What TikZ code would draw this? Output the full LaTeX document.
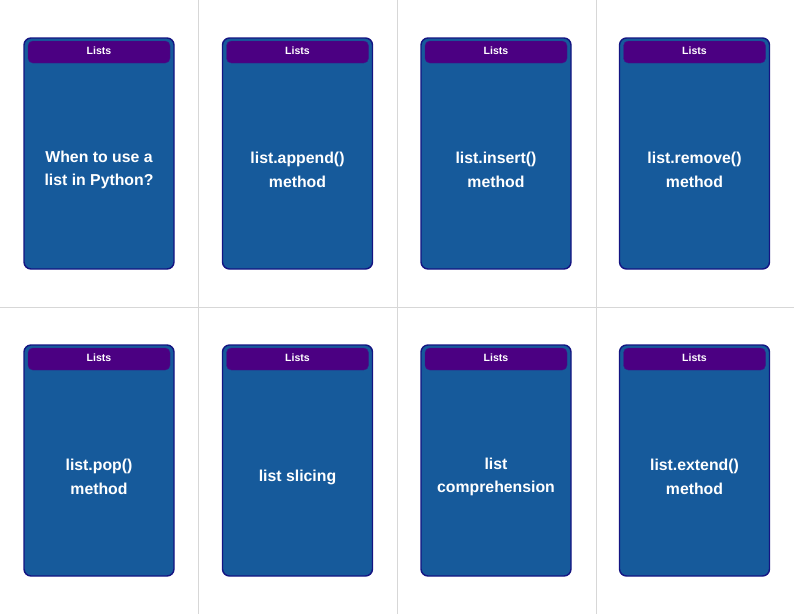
\documentclass[tikz,border=0pt]{standalone}
\usepackage{fontspec}
\setmainfont{Liberation Sans}
\usetikzlibrary{positioning,calc}
\definecolor{cardblue}{RGB}{22,90,155}
\definecolor{cardedge}{RGB}{20,20,130}
\definecolor{headpurple}{RGB}{75,0,130}
\definecolor{gridgray}{RGB}{215,215,215}
\tikzset{
  card/.style={draw=cardedge, line width=1.2pt, fill=cardblue, rounded corners=6pt},
  cardhead/.style={fill=headpurple, draw=headpurple!70!cardblue, rounded corners=4pt},
  headtext/.style={text=white, font=\bfseries\fontsize{9}{10}\selectfont},
  bodytext/.style={text=white, align=center, font=\bfseries\fontsize{13.5}{20}\selectfont}
}
\begin{document}
\begin{tikzpicture}[x=0.03cm, y=-0.03cm]
    \useasboundingbox (0,0) rectangle (794,614);
    % cutting grid
    \draw[gridgray] (198.5,0) -- (198.5,614);
    \draw[gridgray] (397,0) -- (397,614);
    \draw[gridgray] (596,0) -- (596,614);
    \draw[gridgray] (0,307) -- (794,307);
    % cards
    \foreach \col/\row/\txt [count=\i] in {
        0/0/{When to use a\\list in Python?},
        1/0/{list.append()\\method},
        2/0/{list.insert()\\method},
        3/0/{list.remove()\\method},
        0/1/{list.pop()\\method},
        1/1/{list slicing},
        2/1/{list\\comprehension},
        3/1/{list.extend()\\method}}
    {
      \coordinate (origin\i) at ({\col*198.5},{\row*307});
      \draw[card] ($(origin\i)+(24,38)$) rectangle ($(origin\i)+(174,269)$);
      \draw[cardhead] ($(origin\i)+(28,41)$) rectangle ($(origin\i)+(170,63)$);
      \node[headtext] (head\i) at ($(origin\i)+(99,51)$) {Lists};
      \node[bodytext] (body\i) at ($(origin\i)+(99,170)$) {\txt};
    }
\end{tikzpicture}
\end{document}
